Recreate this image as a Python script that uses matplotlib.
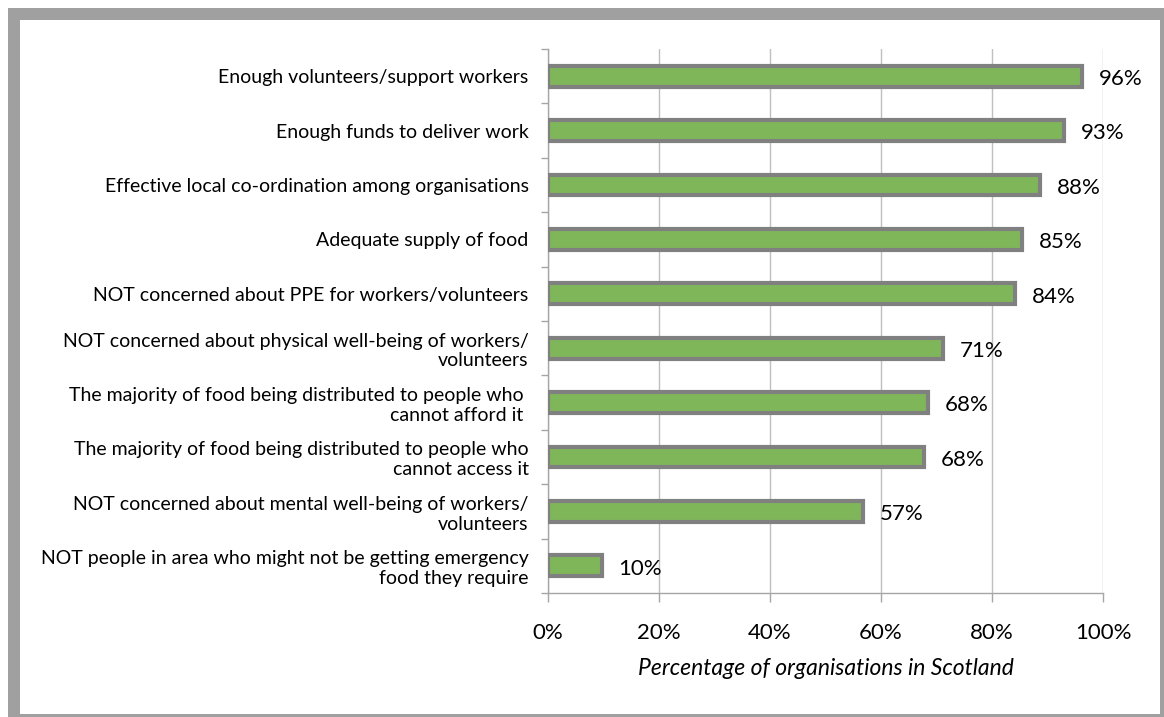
import matplotlib.pyplot as plt
from matplotlib.patches import Rectangle
import numpy as np

plt.rcParams['font.family'] = ['Lato', 'DejaVu Sans']

# data, top to bottom
categories = [
    'Enough volunteers/support workers',
    'Enough funds to deliver work',
    'Effective local co-ordination among organisations',
    'Adequate supply of food',
    'NOT concerned about PPE for workers/volunteers',
    'NOT concerned about physical well-being of workers/\nvolunteers',
    'The majority of food being distributed to people who \ncannot afford it ',
    'The majority of food being distributed to people who\ncannot access it',
    'NOT concerned about mental well-being of workers/\nvolunteers',
    'NOT people in area who might not be getting emergency\nfood they require',
]
values = [96, 93, 88, 85, 84, 71, 68, 68, 57, 10]
bar_len = [96.2, 93.0, 88.6, 85.4, 84.2, 71.2, 68.4, 67.8, 56.8, 9.7]
xticks = [0, 20, 40, 60, 80, 100]

fig = plt.figure(figsize=(11.64, 7.17), dpi=100)

# gray frame round the chart
W, H = 1164, 717
fig.patches.append(Rectangle((8 / W, 0), 1 - 8 / W, 1 - 8 / H, transform=fig.transFigure,
                             facecolor='#A0A0A0', edgecolor='none', zorder=0))
fig.patches.append(Rectangle((20 / W, 3 / H), (1160 - 20) / W, (717 - 20 - 3) / H,
                             transform=fig.transFigure, facecolor='white',
                             edgecolor='none', zorder=0))

ax = fig.add_axes([548 / W, 1 - 593 / H, (1103 - 548) / W, (593 - 49) / H])
ax.set_zorder(2)
ax.patch.set_alpha(0)

y = np.arange(len(categories))
ax.barh(y, bar_len, height=0.38, color='#80B65A', edgecolor='#808080', linewidth=3, zorder=3)

for yi, v, b in zip(y, values, bar_len):
    ax.text(b + 3.0, yi + 0.05, '%d%%' % v, va='center', ha='left', fontsize=16, color='black', zorder=4)

ax.set_ylim(len(categories) - 0.5, -0.5)
ax.set_xlim(0, 100)

ax.set_yticks(y)
ax.set_yticklabels(categories, fontsize=14, linespacing=1.2)
ax.set_yticks(np.arange(-0.5, len(categories)), minor=True)
ax.tick_params(axis='y', which='major', length=0, pad=14)
ax.tick_params(axis='y', which='minor', length=5, color='#A6A6A6', width=1)

ax.set_xticks(xticks)
ax.set_xticklabels(['%d%%' % t for t in xticks], fontsize=16)
ax.tick_params(axis='x', length=6.5, color='#A6A6A6', width=1, pad=15)
ax.set_xlabel('Percentage of organisations in Scotland', fontsize=16.5, style='italic', labelpad=11)

ax.grid(axis='x', color='#BFBFBF', linewidth=1, zorder=0)
for s in ['top', 'right']:
    ax.spines[s].set_visible(False)
for s in ['left', 'bottom']:
    ax.spines[s].set_color('#A6A6A6')
    ax.spines[s].set_linewidth(1)

fig.savefig('out.png', dpi=100)
